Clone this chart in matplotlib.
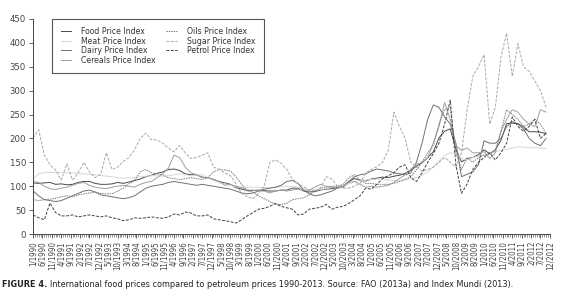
import matplotlib
matplotlib.use("Agg")
import matplotlib.pyplot as plt
import numpy as np

plt.rcParams["font.family"] = ["DejaVu Sans"]
plt.rcParams["font.stretch"] = "condensed"

# quarterly samples (Jan, Apr, Jul, Oct) from 1/1990 to 10/2012
food = [107, 106, 107, 108, 104, 105, 103, 104, 108, 110, 110, 106,
        104, 104, 105, 108, 106, 109, 112, 115, 120, 123, 127, 130,
        135, 136, 133, 126, 124, 124, 119, 118, 114, 110, 107, 104,
        97, 94, 91, 91, 92, 91, 90, 90, 92, 92, 96, 96,
        90, 88, 89, 92, 94, 95, 97, 100, 110, 116, 113, 111,
        115, 117, 119, 118, 121, 123, 127, 133, 142, 149, 160, 172,
        201, 215, 220, 177, 151, 158, 160, 166, 176, 168, 176, 196,
        231, 232, 231, 224, 214, 214, 213, 210]
meat = [115, 126, 129, 129, 129, 129, 128, 128, 127, 126, 125, 124,
        123, 121, 120, 118, 117, 117, 118, 120, 121, 122, 122, 121,
        122, 124, 126, 124, 122, 123, 124, 118, 112, 108, 105, 102,
        99, 98, 98, 98, 98, 97, 97, 98, 99, 99, 100, 98,
        94, 93, 92, 93, 95, 98, 100, 102, 105, 109, 112, 113,
        114, 115, 115, 113, 112, 111, 114, 117, 118, 123, 130, 140,
        152, 165, 170, 168, 158, 155, 160, 163, 165, 168, 172, 175,
        177, 180, 182, 182, 180, 181, 180, 179]
dairy = [90, 80, 72, 70, 68, 70, 75, 80, 85, 90, 92, 88,
         82, 80, 78, 76, 74, 76, 80, 88, 96, 100, 102, 104,
         108, 110, 108, 106, 104, 102, 104, 102, 100, 98, 96, 94,
         90, 86, 84, 86, 90, 94, 96, 98, 102, 110, 112, 106,
         92, 84, 80, 82, 86, 90, 96, 98, 110, 120, 124, 126,
         132, 136, 134, 132, 128, 126, 124, 128, 150, 190, 240, 270,
         265, 245, 230, 190, 120, 125, 130, 145, 195, 190, 190, 200,
         225, 235, 230, 220, 200, 190, 185, 200]
cereals = [110, 108, 100, 95, 93, 96, 98, 102, 106, 108, 102, 98,
           96, 95, 98, 100, 102, 100, 98, 104, 108, 110, 118, 126,
           138, 165, 160, 140, 128, 124, 118, 118, 114, 110, 102, 104,
           100, 97, 92, 92, 90, 90, 86, 90, 92, 90, 92, 94,
           92, 92, 98, 104, 100, 98, 96, 100, 108, 110, 104, 98,
           100, 98, 100, 102, 108, 116, 124, 136, 146, 150, 160, 190,
           225, 275, 240, 185, 175, 180, 170, 170, 172, 158, 170, 215,
           240, 260, 255, 240, 230, 225, 260, 255]
oils = [72, 70, 72, 73, 75, 78, 80, 78, 82, 84, 86, 88,
        85, 84, 84, 90, 96, 105, 112, 130, 135, 128, 126, 124,
        118, 116, 114, 116, 118, 116, 114, 118, 130, 135, 134, 132,
        120, 104, 90, 88, 80, 74, 68, 62, 62, 64, 72, 74,
        76, 82, 90, 96, 98, 100, 100, 104, 118, 124, 112, 106,
        106, 104, 104, 104, 106, 110, 114, 120, 134, 150, 170, 186,
        230, 260, 265, 170, 135, 160, 150, 160, 165, 168, 175, 215,
        260, 250, 240, 225, 230, 240, 230, 210]
sugar = [201, 218, 165, 145, 134, 113, 147, 113, 128, 150, 130, 118,
         125, 170, 135, 140, 152, 160, 176, 200, 211, 197, 197, 190,
         180, 172, 185, 170, 158, 160, 165, 170, 140, 136, 128, 122,
         105, 85, 78, 74, 85, 100, 150, 155, 148, 135, 115, 105,
         99, 92, 90, 96, 120, 115, 100, 96, 96, 100, 106, 127,
         135, 141, 150, 175, 255, 225, 200, 150, 140, 132, 135, 140,
         150, 160, 150, 140, 170, 260, 330, 350, 375, 230, 265, 370,
         420, 330, 398, 350, 340, 320, 300, 265]
petrol = [40, 34, 30, 65, 45, 38, 38, 40, 36, 38, 40, 38,
          36, 38, 34, 32, 28, 30, 34, 33, 34, 36, 34, 33,
          36, 42, 40, 46, 44, 38, 38, 40, 32, 30, 28, 26,
          23, 30, 38, 45, 52, 54, 58, 64, 58, 55, 52, 40,
          42, 52, 54, 56, 62, 52, 56, 58, 64, 72, 80, 96,
          94, 104, 116, 122, 128, 140, 145, 118, 110, 128, 150, 168,
          190, 230, 280, 145, 85, 105, 135, 150, 160, 170, 155, 170,
          190, 245, 225, 215, 225, 240, 200, 210]

months = np.arange(0, 276, 3)
tick_months = np.arange(0, 276, 5)
tick_labels = [f"{m % 12 + 1}/{1990 + m // 12}" for m in tick_months]

fig = plt.figure(figsize=(5.8, 3.04), dpi=100)
ax = fig.add_axes([0.057, 0.23, 0.891, 0.708])

lw = 0.7
ax.plot(months, food, color="#4a4a4a", lw=lw, label="Food Price Index")
ax.plot(months, meat, color="#d6d6d6", lw=lw, label="Meat Price Index")
ax.plot(months, dairy, color="#707070", lw=lw, label="Dairy Price Index")
ax.plot(months, cereals, color="#a0a0a0", lw=lw, label="Cereals Price Index")
ax.plot(months, oils, color="#7a7a7a", lw=lw, dashes=(1.5, 1), label="Oils Price Index")
ax.plot(months, sugar, color="#a8a8a8", lw=lw, dashes=(3, 1.5), label="Sugar Price Index")
ax.plot(months, petrol, color="#404040", lw=lw, dashes=(3, 1.5), label="Petrol Price Index")

ax.set_xlim(0, 275)
ax.set_ylim(0, 450)
ax.set_yticks(range(0, 451, 50))
ax.set_xticks(tick_months)
ax.set_xticklabels(tick_labels, rotation=90, fontsize=5.6)
ax.set_xticks(np.arange(0, 276, 1), minor=True)
ax.tick_params(axis="y", labelsize=6.8)
ax.tick_params(axis="both", colors="#444444", length=3, width=0.6, pad=2)
ax.tick_params(axis="x", which="minor", length=2, width=0.4, colors="#444444")

for side in ["top", "right"]:
    ax.spines[side].set_visible(False)
for side in ["left", "bottom"]:
    ax.spines[side].set_color("#444444")
    ax.spines[side].set_linewidth(0.7)

leg = ax.legend(loc="upper left", bbox_to_anchor=(0.037, 1.0), ncol=2,
                fontsize=6.2, frameon=True, fancybox=False, framealpha=1,
                edgecolor="#555555", handlelength=1.2, handletextpad=1.2,
                columnspacing=1.2, labelspacing=0.05, borderpad=1.0,
                borderaxespad=0)
leg.get_frame().set_linewidth(0.8)
for t in leg.get_texts():
    t.set_color("#333333")

# caption
fig.canvas.draw()
bold = fig.text(0.004, 0.056, "FIGURE 4.", fontsize=6.5, fontweight="bold", color="#222222")
r = fig.canvas.get_renderer()
bb = bold.get_window_extent(renderer=r)
fig.text(bb.x1 / fig.bbox.width + 0.004, 0.056,
         "International food prices compared to petroleum prices 1990-2013. "
         "Source: FAO (2013a) and Index Mundi (2013).",
         fontsize=6.5, color="#222222")

fig.savefig("out.png", dpi=100)
